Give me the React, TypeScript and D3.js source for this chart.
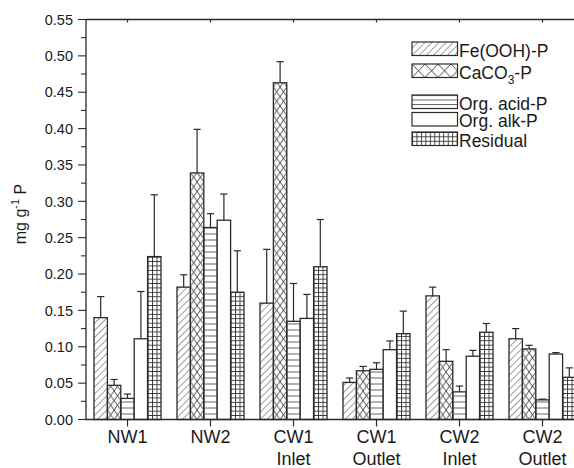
import React, { useRef, useEffect } from 'react';
import * as d3 from 'd3';

// sites, two-line labels
const siteLine1 = ['NW1', 'NW2', 'CW1', 'CW1', 'CW2', 'CW2'];
const siteLine2 = ['', '', 'Inlet', 'Outlet', 'Inlet', 'Outlet'];

// P fractions (mg g-1 P) and their standard deviations
const feP = [0.140, 0.182, 0.160, 0.051, 0.170, 0.111];
const feSd = [0.029, 0.017, 0.074, 0.006, 0.012, 0.014];
const caco3P = [0.047, 0.339, 0.463, 0.067, 0.080, 0.097];
const caco3Sd = [0.008, 0.060, 0.029, 0.006, 0.016, 0.005];
const acidP = [0.029, 0.264, 0.135, 0.069, 0.038, 0.027];
const acidSd = [0.006, 0.019, 0.052, 0.009, 0.008, 0.001];
const alkP = [0.111, 0.274, 0.139, 0.096, 0.087, 0.090];
const alkSd = [0.065, 0.036, 0.033, 0.012, 0.008, 0.002];
const residP = [0.224, 0.175, 0.210, 0.118, 0.120, 0.058];
const residSd = [0.085, 0.057, 0.065, 0.031, 0.012, 0.013];

const seriesKeys = ['fe', 'caco3', 'acid', 'alk', 'resid'];
const seriesValues = [feP, caco3P, acidP, alkP, residP];
const seriesSd = [feSd, caco3Sd, acidSd, alkSd, residSd];

const yTicks = [0, 0.05, 0.1, 0.15, 0.2, 0.25, 0.3, 0.35, 0.4, 0.45, 0.5, 0.55];

const FONT = '"Liberation Sans", Arial, Helvetica, sans-serif';
const INK = '#2a2a2a';

const App = () => {
    const svgRef = useRef(null);
    const width = 574;
    const height = 468;
    const margin = { left: 86, top: 19.5, right: -10, bottom: 48.5 };

    useEffect(() => {
        document.body.style.margin = '0';
        const svg = d3.select(svgRef.current);
        svg.selectAll('*').remove();

        const x0 = margin.left;
        const x1 = width - margin.right;
        const yTop = margin.top;
        const yBot = height - margin.bottom;

        const x = d3.scaleBand()
            .domain(siteLine1.map((d, i) => String(i)))
            .range([x0, x1])
            .paddingInner(16 / 83)
            .paddingOuter(8 / 83);
        const xs = d3.scaleBand()
            .domain(seriesKeys)
            .range([0, x.bandwidth()]);
        const y = d3.scaleLinear().domain([0, 0.55]).range([yBot, yTop]);

        const defs = svg.append('defs');

        // hatch patterns, one per bar so tiles line up with bar edges
        const makePattern = (id, key, px, py, legend) => {
            const bw = xs.bandwidth();
            if (key === 'fe') {
                const p = defs.append('pattern').attr('id', id)
                    .attr('patternUnits', 'userSpaceOnUse')
                    .attr('width', 5).attr('height', 5)
                    .attr('patternTransform', 'rotate(45)');
                p.append('line').attr('x1', 0).attr('y1', -1).attr('x2', 0).attr('y2', 6)
                    .attr('stroke', '#3a3a3a').attr('stroke-width', 1);
            } else if (key === 'caco3') {
                const w = legend ? 13 : bw / 2;
                const h = legend ? 13.5 : 9.5;
                const p = defs.append('pattern').attr('id', id)
                    .attr('patternUnits', 'userSpaceOnUse')
                    .attr('x', px).attr('y', py)
                    .attr('width', w).attr('height', h);
                p.append('path').attr('d', `M0,0L${w},${h}M${w},0L0,${h}`)
                    .attr('stroke', '#333').attr('stroke-width', 0.9).attr('fill', 'none');
            } else if (key === 'acid') {
                const h = legend ? 4.5 : 6;
                const p = defs.append('pattern').attr('id', id)
                    .attr('patternUnits', 'userSpaceOnUse')
                    .attr('x', px).attr('y', py)
                    .attr('width', 10).attr('height', h);
                p.append('line').attr('x1', 0).attr('y1', 0.5).attr('x2', 10).attr('y2', 0.5)
                    .attr('stroke', '#666').attr('stroke-width', 1);
            } else if (key === 'resid') {
                const w = bw / 3;
                const p = defs.append('pattern').attr('id', id)
                    .attr('patternUnits', 'userSpaceOnUse')
                    .attr('x', px).attr('y', py)
                    .attr('width', w).attr('height', 4.4);
                p.append('path').attr('d', `M0.5,0V4.4M0,0.5H${w}`)
                    .attr('stroke', '#333').attr('stroke-width', 0.9).attr('fill', 'none');
            }
        };
        const fillFor = (id, key) => (key === 'alk' ? '#fff' : `url(#${id})`);

        // bars + error bars
        const g = svg.append('g');
        siteLine1.forEach((site, i) => {
            seriesKeys.forEach((key, k) => {
                const bx = x(String(i)) + xs(key);
                const v = seriesValues[k][i];
                const sd = seriesSd[k][i];
                const id = `pat-${i}-${k}`;
                makePattern(id, key, bx, yBot, false);
                const cx = bx + xs.bandwidth() / 2;
                g.append('line')
                    .attr('x1', cx).attr('x2', cx)
                    .attr('y1', y(v)).attr('y2', y(v + sd))
                    .attr('stroke', INK).attr('stroke-width', 1.2);
                g.append('line')
                    .attr('x1', cx - 3.6).attr('x2', cx + 3.6)
                    .attr('y1', y(v + sd)).attr('y2', y(v + sd))
                    .attr('stroke', INK).attr('stroke-width', 1.2);
                g.append('rect')
                    .attr('x', bx).attr('y', y(v))
                    .attr('width', xs.bandwidth()).attr('height', yBot - y(v))
                    .attr('fill', fillFor(id, key))
                    .attr('stroke', INK).attr('stroke-width', 1.3);
            });
        });

        // frame
        const frame = svg.append('g').attr('stroke', INK).attr('stroke-width', 1.3);
        frame.append('line').attr('x1', x0).attr('x2', x0).attr('y1', yTop).attr('y2', yBot);
        frame.append('line').attr('x1', x0).attr('x2', x1).attr('y1', yTop).attr('y2', yTop);
        frame.append('line').attr('x1', x0 - 0.6).attr('x2', x1).attr('y1', yBot).attr('y2', yBot);

        // y axis ticks (major + minor, outward)
        const yAxis = svg.append('g');
        d3.range(0, 0.5501, 0.025).forEach((t, i) => {
            const major = i % 2 === 0;
            yAxis.append('line')
                .attr('x1', x0 - (major ? 8 : 5)).attr('x2', x0)
                .attr('y1', y(t)).attr('y2', y(t))
                .attr('stroke', INK).attr('stroke-width', 1.1);
        });
        yAxis.selectAll('text.tick').data(yTicks).enter().append('text')
            .attr('x', x0 - 13).attr('y', d => y(d)).attr('dy', '0.36em')
            .attr('text-anchor', 'end')
            .attr('font-family', FONT).attr('font-size', 14.5).attr('fill', '#1a1a1a')
            .text(d => d3.format('.2f')(d));

        // x ticks and labels
        siteLine1.forEach((site, i) => {
            const cx = x(String(i)) + x.bandwidth() / 2;
            svg.append('line').attr('x1', cx).attr('x2', cx).attr('y1', yBot).attr('y2', yBot + 7)
                .attr('stroke', INK).attr('stroke-width', 1.2);
            svg.append('line').attr('x1', cx).attr('x2', cx).attr('y1', yTop).attr('y2', yTop + 3)
                .attr('stroke', INK).attr('stroke-width', 1.2);
            svg.append('text').attr('x', cx).attr('y', 443)
                .attr('text-anchor', 'middle').attr('font-family', FONT).attr('font-size', 18).attr('fill', '#1a1a1a')
                .text(site);
            if (siteLine2[i]) {
                svg.append('text').attr('x', cx).attr('y', 465)
                    .attr('text-anchor', 'middle').attr('font-family', FONT).attr('font-size', 18).attr('fill', '#1a1a1a')
                    .text(siteLine2[i]);
            }
        });

        // y title
        const yt = svg.append('text')
            .attr('transform', `translate(26,214) rotate(-90)`)
            .attr('text-anchor', 'middle')
            .attr('font-family', FONT).attr('font-size', 16).attr('fill', '#1a1a1a');
        yt.append('tspan').text('mg g');
        yt.append('tspan').attr('font-size', 11).attr('dy', -7).text('-1');
        yt.append('tspan').attr('dy', 7).text(' P');

        // legend
        const legendRows = [
            { key: 'fe', top: 42, base: 57, label: ['Fe(OOH)-P'] },
            { key: 'caco3', top: 64, base: 79, label: ['CaCO', '3', '-P'] },
            { key: 'acid', top: 95, base: 109.5, label: ['Org. acid-P'] },
            { key: 'alk', top: 112.5, base: 127, label: ['Org. alk-P'] },
            { key: 'resid', top: 132, base: 147, label: ['Residual'] },
        ];
        const lg = svg.append('g');
        legendRows.forEach((r, i) => {
            const id = `leg-${i}`;
            makePattern(id, r.key, 412, r.top, true);
            lg.append('rect').attr('x', 412).attr('y', r.top).attr('width', 45.5).attr('height', 13.5)
                .attr('fill', fillFor(id, r.key)).attr('stroke', INK).attr('stroke-width', 1.2);
            const t = lg.append('text').attr('x', 459).attr('y', r.base)
                .attr('font-family', FONT).attr('font-size', 17.5).attr('fill', '#1a1a1a');
            if (r.label.length === 1) {
                t.text(r.label[0]);
            } else {
                t.append('tspan').text(r.label[0]);
                t.append('tspan').attr('font-size', 12).attr('dy', 5).text(r.label[1]);
                t.append('tspan').attr('dy', -5).text(r.label[2]);
            }
        });
    }, []);

    return <svg ref={svgRef} width={width} height={height} style={{ display: 'block' }}></svg>;
};

export default App;
